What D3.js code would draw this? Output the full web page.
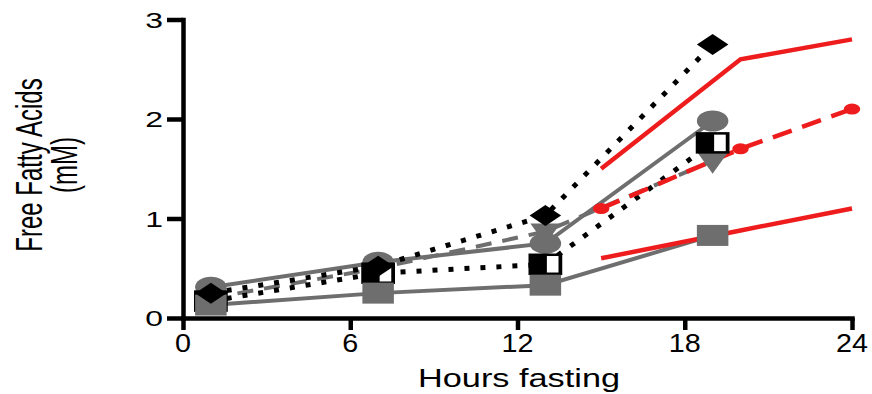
<!DOCTYPE html>
<html lang="en">
<head>
    <meta charset="UTF-8">
    <title>Free Fatty Acids</title>
    <script src="https://d3js.org/d3.v7.min.js"></script>
    <style>
        body { margin: 0; background: #fff; }
        text { font-family: "Liberation Sans", Arial, sans-serif; fill: #000; }
    </style>
</head>
<body>
    <svg></svg>
</body>
<script>
    // data
    const hours = [1, 7, 13, 19];
    const diamondVals = [0.25, 0.52, 1.03, 2.75];
    const circleVals = [0.31, 0.56, 0.75, 1.98];
    const triangleVals = [0.2, 0.5, 0.87, 1.58];
    const halfSquareVals = [0.17, 0.45, 0.54, 1.76];
    const squareVals = [0.13, 0.25, 0.33, 0.83];

    const redHours = [15, 20, 24];
    const redUpper = [1.5, 2.6, 2.8];
    const redMid = [1.1, 1.7, 2.1];
    const redLower = [0.6, 0.88, 1.1];

    const xTicks = [0, 6, 12, 18, 24];
    const yTicks = [0, 1, 2, 3];

    const width = 872, height = 394;
    const gray = "#6e6e6e", red = "#ee1c1c";

    const svg = d3.select("svg")
        .attr("width", width)
        .attr("height", height);

    const x = d3.scaleLinear().domain([0, 24]).range([183, 852]);
    const y = d3.scaleLinear().domain([0, 3]).range([318, 19.5]);

    const line = d3.line().x(d => x(d[0])).y(d => y(d[1]));
    const pts = (xs, ys) => xs.map((h, i) => [h, ys[i]]);

    // series lines (bottom to top)
    const series = [
        { vals: squareVals, color: gray, w: 4, dash: null },
        { vals: circleVals, color: gray, w: 4, dash: null },
        { vals: triangleVals, color: gray, w: 4, dash: "16 11" },
        { vals: halfSquareVals, color: "#000", w: 5, dash: "5 11" },
        { vals: diamondVals, color: "#000", w: 5, dash: "5 11" }
    ];
    series.forEach(s => {
        svg.append("path")
            .attr("d", line(pts(hours, s.vals)))
            .attr("fill", "none")
            .attr("stroke", s.color)
            .attr("stroke-width", s.w)
            .attr("stroke-dasharray", s.dash);
    });

    [[redUpper, null], [redLower, null], [redMid, "20 11"]].forEach(([vals, dash]) => {
        svg.append("path")
            .attr("d", line(pts(redHours, vals)))
            .attr("fill", "none")
            .attr("stroke", red)
            .attr("stroke-width", 4.5)
            .attr("stroke-dasharray", dash);
    });

    // markers: stretched horizontally like the original figure
    const sx = 1.5;
    const mark = (vals, draw) => {
        const g = svg.append("g");
        hours.forEach((h, i) => {
            const m = g.append("g")
                .attr("transform", `translate(${x(h)},${y(vals[i])}) scale(${sx},1)`);
            draw(m);
        });
    };

    mark(circleVals, m => m.append("circle").attr("r", 10.5).attr("fill", gray));
    mark(triangleVals, m => m.append("path")
        .attr("d", "M-10,-8L10,-8L0,13Z").attr("fill", gray));
    mark(halfSquareVals, m => {
        m.append("rect").attr("x", -10).attr("y", -9.5).attr("width", 20).attr("height", 19)
            .attr("fill", "#fff").attr("stroke", "#000").attr("stroke-width", 2.5);
        m.append("rect").attr("x", -10).attr("y", -9.5).attr("width", 11).attr("height", 19)
            .attr("fill", "#000");
    });
    mark(squareVals, m => m.append("rect")
        .attr("x", -10.5).attr("y", -10.5).attr("width", 21).attr("height", 21).attr("fill", gray));
    mark(diamondVals, m => m.append("path")
        .attr("d", "M0,-10.5L10.5,0L0,10.5L-10.5,0Z").attr("fill", "#000"));

    svg.append("g").selectAll("g")
        .data(pts(redHours, redMid))
        .join("g")
        .attr("transform", d => `translate(${x(d[0])},${y(d[1])}) scale(${sx},1)`)
        .append("circle").attr("r", 5.5).attr("fill", red);

    // axes
    const yAxis = svg.append("g")
        .attr("transform", `translate(${x(0)},0)`)
        .call(d3.axisLeft(y).tickValues(yTicks).tickSize(16).tickSizeOuter(0).tickFormat(""));
    const xAxis = svg.append("g")
        .attr("transform", `translate(0,${y(0)})`)
        .call(d3.axisBottom(x).tickValues(xTicks).tickSize(12).tickSizeOuter(0).tickFormat(""));
    [yAxis, xAxis].forEach(a => {
        a.select(".domain").attr("stroke", "#000").attr("stroke-width", 4.5).attr("stroke-linecap", "square");
        a.selectAll(".tick line").attr("stroke", "#000").attr("stroke-width", 4.5);
    });

    // tick labels
    svg.append("g").selectAll("text")
        .data(yTicks)
        .join("text")
        .attr("transform", d => `translate(163,${y(d) + 8}) scale(1.45,1)`)
        .attr("text-anchor", "end")
        .attr("font-size", 22)
        .text(d => d);

    svg.append("g").selectAll("text")
        .data(xTicks)
        .join("text")
        .attr("transform", d => `translate(${x(d)},352) scale(1.15,1)`)
        .attr("text-anchor", "middle")
        .attr("font-size", 25)
        .text(d => d);

    // axis titles
    svg.append("text")
        .attr("transform", `translate(519,387) scale(1.32,1)`)
        .attr("text-anchor", "middle")
        .attr("font-size", 26)
        .text("Hours fasting");

    const yTitle = svg.append("g")
        .attr("transform", `translate(0,165) scale(1.55,1)`);
    yTitle.append("text")
        .attr("transform", "translate(27,0) rotate(-90)")
        .attr("text-anchor", "middle")
        .attr("font-size", 24)
        .text("Free Fatty Acids");
    yTitle.append("text")
        .attr("transform", "translate(49.5,0) rotate(-90)")
        .attr("text-anchor", "middle")
        .attr("font-size", 24)
        .text("(mM)");
</script>
</html>
